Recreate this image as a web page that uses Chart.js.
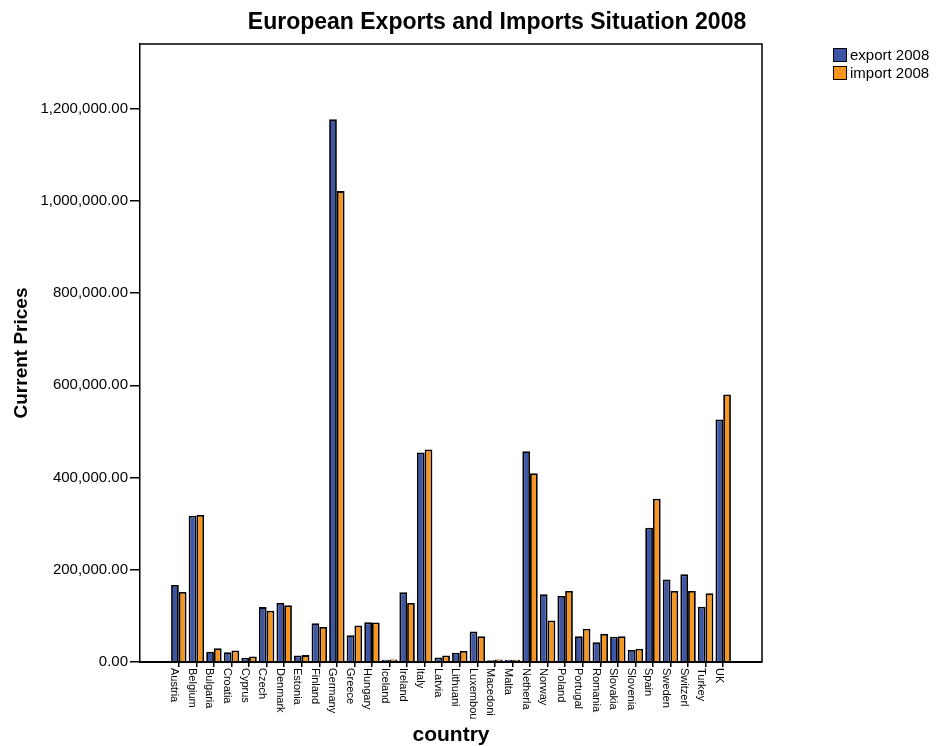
<!DOCTYPE html>
<html>
<head>
<meta charset="utf-8">
<title>European Exports and Imports Situation 2008</title>
<script src="https://cdn.jsdelivr.net/npm/chart.js@4.4.0/dist/chart.umd.min.js"></script>
<style>
  html, body { margin: 0; padding: 0; background: #fff; }
  #wrap { width: 937px; height: 746px; }
</style>
</head>
<body>
<div id="wrap"><canvas id="tradeChart" width="937" height="746"></canvas></div>
<script>
// Countries (labels truncated the same way as the original plot)
const countries = ['Austria', 'Belgium', 'Bulgaria', 'Croatia', 'Cyprus', 'Czech', 'Denmark', 'Estonia',
    'Finland', 'Germany', 'Greece', 'Hungary', 'Iceland', 'Ireland', 'Italy', 'Latvia', 'Lithuani',
    'Luxembou', 'Macedoni', 'Malta', 'Netherla', 'Norway', 'Poland', 'Portugal', 'Romania', 'Slovakia',
    'Slovenia', 'Spain', 'Sweden', 'Switzerl', 'Turkey', 'UK'];

// Current prices
const exports2008 = [167000, 317000, 22000, 21000, 9000, 119000, 128000, 14000,
    84000, 1177000, 58000, 86000, 5000, 151000, 454000, 10000, 20000,
    66000, 4000, 5000, 457000, 147000, 143000, 56000, 43000, 55000,
    26000, 291000, 179000, 190000, 120000, 526000];
const imports2008 = [152000, 319000, 30000, 25000, 12000, 111000, 123000, 15000,
    76000, 1021000, 79000, 85500, 5500, 128000, 461000, 14000, 24000,
    56000, 5500, 5000, 409000, 90000, 154000, 72000, 61000, 56000,
    29000, 354000, 154000, 154000, 149000, 580000];

const yTickValues = [0, 200000, 400000, 600000, 800000, 1000000, 1200000];

const seriesNames = ['export 2008', 'import 2008'];
const seriesColors = ['#3e56a6', '#f7961f'];

const FONT = "'Liberation Sans', Arial, Helvetica, sans-serif";

// Ruled box round the plot area (top and right sides)
const frameBox = {
    id: 'frameBox',
    afterDatasetsDraw(chart) {
        const a = chart.chartArea;
        const ctx = chart.ctx;
        ctx.save();
        ctx.strokeStyle = '#000';
        ctx.lineWidth = 1.5;
        ctx.beginPath();
        ctx.moveTo(a.left, a.top);
        ctx.lineTo(a.right, a.top);
        ctx.lineTo(a.right, a.bottom);
        ctx.stroke();
        ctx.restore();
    }
};

// Title, legend and vertical country labels
const extraText = {
    id: 'extraText',
    afterDraw(chart) {
        const ctx = chart.ctx;
        const xScale = chart.scales.x;
        ctx.save();
        ctx.fillStyle = '#000';

        // Title
        ctx.font = 'bold 23px ' + FONT;
        ctx.textAlign = 'center';
        ctx.textBaseline = 'middle';
        ctx.fillText('European Exports and Imports Situation 2008', 497, 23);

        // Legend
        ctx.font = '15px ' + FONT;
        ctx.textAlign = 'left';
        seriesNames.forEach((name, i) => {
            const y = 48 + i * 18;
            ctx.fillStyle = seriesColors[i];
            ctx.fillRect(833, y, 14, 14);
            ctx.strokeStyle = '#000';
            ctx.lineWidth = 1;
            ctx.strokeRect(833.5, y + 0.5, 13, 13);
            ctx.fillStyle = '#000';
            ctx.fillText(name, 850, y + 7.5);
        });

        // Country labels, rotated clockwise, sitting just left of each tick
        ctx.font = '11px ' + FONT;
        ctx.textBaseline = 'alphabetic';
        countries.forEach((c, i) => {
            const x = xScale.getPixelForValue(i);
            ctx.save();
            ctx.translate(x, chart.chartArea.bottom + 6);
            ctx.rotate(Math.PI / 2);
            ctx.fillText(c, 0, 7.5);
            ctx.restore();
        });
        ctx.restore();
    }
};

const ctx = document.getElementById('tradeChart');

new Chart(ctx, {
    type: 'bar',
    data: {
        datasets: [{
            label: seriesNames[0],
            data: exports2008.map((v, i) => ({ x: i, y: v })),
            backgroundColor: seriesColors[0],
            borderColor: '#000',
            borderWidth: 1.8,
            categoryPercentage: 0.88,
            barPercentage: 1.0
        }, {
            label: seriesNames[1],
            data: imports2008.map((v, i) => ({ x: i, y: v })),
            backgroundColor: seriesColors[1],
            borderColor: '#000',
            borderWidth: 1.8,
            categoryPercentage: 0.88,
            barPercentage: 1.0
        }]
    },
    options: {
        responsive: false,
        animation: false,
        layout: {
            padding: { top: 44, right: 175, bottom: 0, left: 0 }
        },
        plugins: {
            legend: { display: false },
            title: { display: false },
            tooltip: { enabled: false }
        },
        scales: {
            x: {
                type: 'linear',
                offset: false,
                min: -2.21,
                max: 33.21,
                afterBuildTicks: function (scale) {
                    scale.ticks = countries.map((c, i) => ({ value: i }));
                },
                afterFit: function (scale) {
                    scale.height = 84;
                },
                ticks: { display: false },
                grid: {
                    offset: false,
                    drawOnChartArea: false,
                    drawTicks: true,
                    tickLength: 5,
                    color: '#000',
                    lineWidth: 1.5
                },
                border: { color: '#000', width: 2 },
                title: {
                    display: true,
                    text: 'country',
                    color: '#000',
                    font: { family: FONT, size: 21, weight: 'bold', lineHeight: 1.0 },
                    padding: { top: 0, bottom: 0 }
                }
            },
            y: {
                min: 0,
                max: 1340000,
                afterBuildTicks: function (scale) {
                    scale.ticks = yTickValues.map(v => ({ value: v }));
                },
                afterFit: function (scale) {
                    scale.width = 140;
                },
                ticks: {
                    color: '#000',
                    padding: 2,
                    font: { family: FONT, size: 15 },
                    callback: function (value) {
                        return value.toLocaleString('en-US', {
                            minimumFractionDigits: 2,
                            maximumFractionDigits: 2
                        });
                    }
                },
                grid: {
                    drawOnChartArea: false,
                    drawTicks: true,
                    tickLength: 10,
                    color: '#000',
                    lineWidth: 1.5
                },
                border: { color: '#000', width: 1.5 },
                title: {
                    display: true,
                    text: 'Current Prices',
                    color: '#000',
                    font: { family: FONT, size: 19, weight: 'bold', lineHeight: 1.2 },
                    padding: { top: 10, bottom: 0 }
                }
            }
        }
    },
    plugins: [frameBox, extraText]
});
</script>
</body>
</html>
